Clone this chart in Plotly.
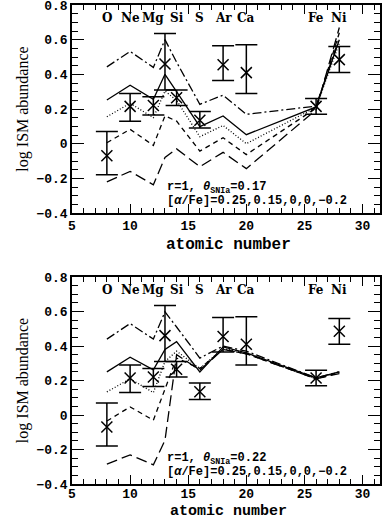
import plotly.graph_objects as go

# observed ISM abundances
obs_z = [8, 10, 12, 13, 14, 16, 18, 20, 26, 28]
obs_val = [-0.07, 0.215, 0.22, 0.46, 0.265, 0.135, 0.455, 0.41, 0.215, 0.485]
obs_hi = [0.07, 0.29, 0.27, 0.635, 0.31, 0.185, 0.565, 0.57, 0.26, 0.56]
obs_lo = [-0.18, 0.13, 0.165, 0.31, 0.22, 0.09, 0.365, 0.29, 0.17, 0.41]

model_z = [8, 10, 12, 13, 14, 16, 18, 20, 26, 28]

# panel 1: theta_SNIa = 0.17, [a/Fe] = 0.25, 0.15, 0, 0, -0.2
top_dashdot = [0.443, 0.532, 0.44, 0.60, 0.47, 0.227, 0.28, 0.169, 0.217, 0.61]
top_solid = [0.252, 0.337, 0.256, 0.40, 0.30, 0.098, 0.16, 0.052, 0.212, 0.60]
top_dot = [0.155, 0.233, 0.15, 0.304, 0.25, 0.04, 0.105, 0.0, 0.21, 0.58]
top_dash = [0.005, 0.083, -0.01, 0.16, 0.13, -0.043, 0.034, -0.063, 0.205, 0.64]
top_longdash = [-0.22, -0.16, -0.237, -0.08, -0.03, -0.133, -0.05, -0.144, 0.195, 0.67]

# panel 2: theta_SNIa = 0.22
bot_dashdot = [0.44, 0.53, 0.44, 0.598, 0.51, 0.33, 0.40, 0.37, 0.215, 0.25]
bot_solid = [0.25, 0.335, 0.262, 0.38, 0.425, 0.25, 0.395, 0.36, 0.215, 0.25]
bot_dot = [0.134, 0.21, 0.13, 0.31, 0.37, 0.27, 0.385, 0.36, 0.21, 0.25]
bot_dash = [-0.035, 0.047, -0.03, 0.15, 0.33, 0.27, 0.38, 0.355, 0.21, 0.245]
bot_longdash = [-0.285, -0.231, -0.289, -0.147, 0.35, 0.26, 0.38, 0.355, 0.21, 0.24]

elem_names = ["O", "Ne", "Mg", "Si", "S", "Ar", "Ca", "Fe", "Ni"]
elem_z = [8, 10, 12, 14, 16, 18, 20, 26, 28]

panel_text = [
    ("r=1, <i>θ</i><sub>SNIa</sub>=0.17", "[<i>α</i>/Fe]=0.25,0.15,0,0,−0.2"),
    ("r=1, <i>θ</i><sub>SNIa</sub>=0.22", "[<i>α</i>/Fe]=0.25,0.15,0,0,−0.2"),
]

W, H = 385, 517
x0, x1 = 72 / W, 380 / W
doms = [(1 - 213 / H, 1 - 5 / H), (1 - 484 / H, 1 - 277 / H)]
xtitle_y = [245, 511]
xtitle_size = [16, 15]

styles = [
    ("dashdot", "9px,3px,2px,3px"),
    ("solid", "solid"),
    ("dot", "1px,2px"),
    ("dash", "5px,4px"),
    ("longdash", "11px,5px"),
]

fig = go.Figure()
panels = [
    [top_dashdot, top_solid, top_dot, top_dash, top_longdash],
    [bot_dashdot, bot_solid, bot_dot, bot_dash, bot_longdash],
]

TICKFONT = dict(family="Liberation Mono", size=13, color="black", weight="bold")

for p, series in enumerate(panels):
    xa = "x" if p == 0 else "x2"
    ya = "y" if p == 0 else "y2"
    for (name, dash), vals in zip(styles, series):
        fig.add_trace(go.Scatter(
            x=model_z, y=vals, mode="lines", xaxis=xa, yaxis=ya,
            line=dict(color="black", width=1.3, dash=dash),
            showlegend=False, hoverinfo="skip"))
    fig.add_trace(go.Scatter(
        x=obs_z, y=obs_val, mode="markers", xaxis=xa, yaxis=ya,
        marker=dict(symbol="x-thin", size=11, line=dict(color="black", width=1.5), color="black"),
        error_y=dict(type="data", symmetric=False,
                     array=[h - v for h, v in zip(obs_hi, obs_val)],
                     arrayminus=[v - l for l, v in zip(obs_lo, obs_val)],
                     color="black", thickness=1.5, width=11),
        showlegend=False))
    axsuf = "" if p == 0 else "2"
    for name, z in zip(elem_names, elem_z):
        fig.add_annotation(x=z, y=0.725, xref="x" + axsuf, yref="y" + axsuf,
                           text=name, showarrow=False,
                           font=dict(family="DejaVu Serif", size=12, color="black", weight="bold"))
    l1, l2 = panel_text[p]
    fig.add_annotation(x=13.0, y=-0.255, xref="x" + axsuf, yref="y" + axsuf, text=l1,
                       showarrow=False, xanchor="left",
                       font=dict(family="Liberation Mono", size=12, color="black", weight="bold"))
    fig.add_annotation(x=13.0, y=-0.33, xref="x" + axsuf, yref="y" + axsuf, text=l2,
                       showarrow=False, xanchor="left",
                       font=dict(family="Liberation Mono", size=12, color="black", weight="bold"))
    # x-axis title
    fig.add_annotation(x=228 / W, y=1 - xtitle_y[p] / H, xref="paper", yref="paper",
                       text="atomic number", showarrow=False, xanchor="center", yanchor="middle",
                       font=dict(family="Liberation Mono", size=xtitle_size[p], color="black", weight="bold"))

common_x = dict(range=[5, 31.5], tickvals=[5, 10, 15, 20, 25, 30], ticks="inside", ticklen=9,
                tickwidth=1.3, tickcolor="black", showline=True, linecolor="black", linewidth=1.5,
                mirror="allticks", showgrid=False, zeroline=False, tickfont=TICKFONT,
                automargin=False, ticklabeloverflow="allow",
                minor=dict(dtick=1, ticks="inside", ticklen=5, tickwidth=1.1, tickcolor="black", showgrid=False))
common_y = dict(range=[-0.4, 0.8], tickvals=[-0.4, -0.2, 0, 0.2, 0.4, 0.6, 0.8],
                ticktext=["−0.4", "−0.2", "0", "0.2", "0.4", "0.6", "0.8"],
                ticks="inside", ticklen=12, tickwidth=1.3, tickcolor="black",
                showline=True, linecolor="black", linewidth=1.5, mirror="allticks",
                showgrid=False, zeroline=False, tickfont=TICKFONT, automargin=False,
                ticklabeloverflow="allow",
                minor=dict(dtick=0.05, ticks="inside", ticklen=6, tickwidth=1.1, tickcolor="black", showgrid=False),
                title=dict(text="log ISM abundance", standoff=4,
                           font=dict(family="Liberation Serif", size=16, color="black")))

fig.update_layout(
    width=W, height=H, margin=dict(l=0, r=0, t=0, b=0, autoexpand=False),
    paper_bgcolor="white", plot_bgcolor="white",
    xaxis=dict(domain=[x0, x1], anchor="y", ticklabelstandoff=0, **common_x),
    yaxis=dict(domain=list(doms[0]), anchor="x", **common_y),
    xaxis2=dict(domain=[x0, x1], anchor="y2", ticklabelstandoff=-3, **common_x),
    yaxis2=dict(domain=list(doms[1]), anchor="x2", **common_y),
)

fig.write_html("out.html", config={"displayModeBar": False},
               post_script="document.body.style.margin='0px';")
